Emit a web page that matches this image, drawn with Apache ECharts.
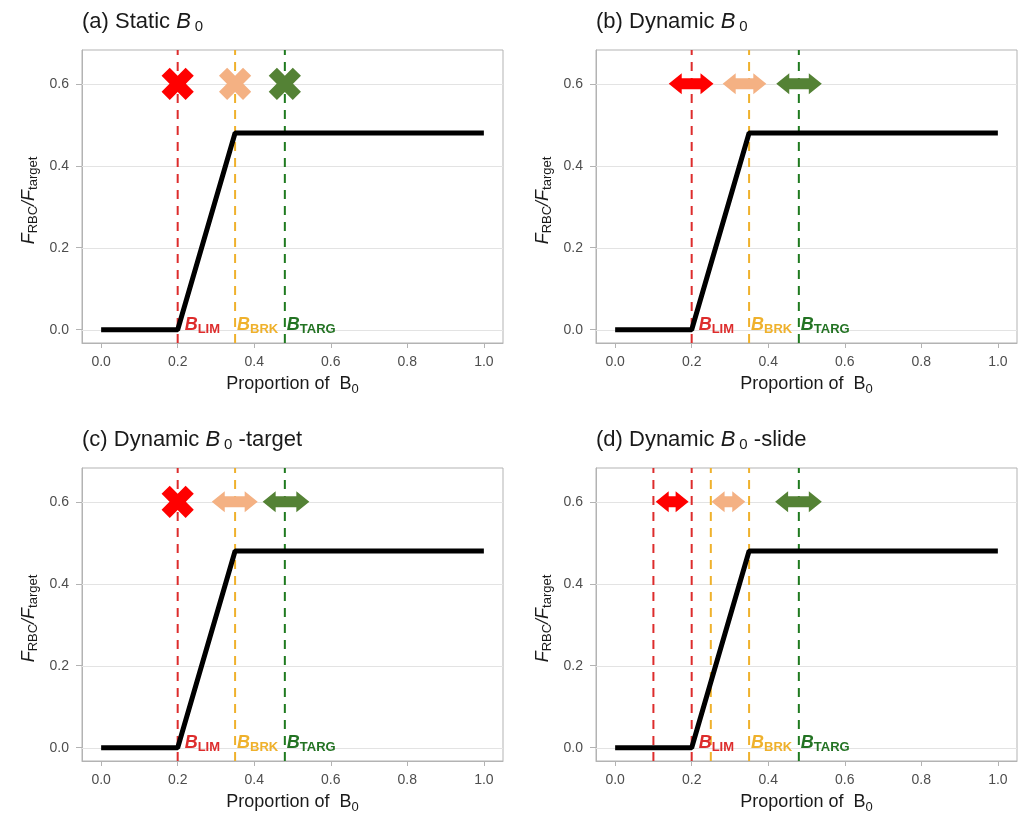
<!DOCTYPE html>
<html>
<head>
<meta charset="utf-8">
<script src="https://cdn.jsdelivr.net/npm/echarts@6/dist/echarts.min.js"></script>
<style>
  html, body { margin: 0; padding: 0; background: #ffffff; }
  #chart { width: 1019px; height: 816px; }
</style>
</head>
<body>
<div id="chart"></div>
<script>
// Harvest control rule: F_RBC / F_target against proportion of B0
const hcrX = [0, 0.2, 0.35, 1.0];
const hcrY = [0, 0, 0.48, 0.48];

const xTicks = [0, 0.2, 0.4, 0.6, 0.8, 1.0];
const yTicks = [0, 0.2, 0.4, 0.6];

const panelPrefix = ['(a) Static ', '(b) Dynamic ', '(c) Dynamic ', '(d) Dynamic '];
const panelSuffix = ['', '', ' -target', ' -slide'];

// reference point kinds: 0 = limit, 1 = breakpoint, 2 = target
const kindNames = ['LIM', 'BRK', 'TARG'];

// dashed reference lines for each panel: [x, kind]
const refLines = [
  [[0.2, 0], [0.35, 1], [0.48, 2]],
  [[0.2, 0], [0.35, 1], [0.48, 2]],
  [[0.2, 0], [0.35, 1], [0.48, 2]],
  [[0.1, 0], [0.2, 0], [0.25, 1], [0.35, 1], [0.48, 2]]
];

// B labels along the x axis: [x, kind]
const refLabels = [[0.2, 0], [0.35, 1], [0.48, 2]];

// fixed reference points (cross marks): [x, y, kind]
const crossMarks = [
  [[0.2, 0.6, 0], [0.35, 0.6, 1], [0.48, 0.6, 2]],
  [],
  [[0.2, 0.6, 0]],
  []
];

// moving reference points (double arrows): [xFrom, xTo, y, kind]
const arrowMarks = [
  [],
  [[0.140, 0.257, 0.6, 0], [0.281, 0.395, 0.6, 1], [0.421, 0.540, 0.6, 2]],
  [[0.289, 0.409, 0.6, 1], [0.422, 0.544, 0.6, 2]],
  [[0.106, 0.192, 0.6, 0], [0.252, 0.340, 0.6, 1], [0.418, 0.540, 0.6, 2]]
];

const lineColors = ['#dd2c2c', '#efb12c', '#1f7a1f'];
const labelColors = ['#dd2c2c', '#efb12c', '#237323'];
const markColors = ['#ff0000', '#f4b183', '#548235'];

const FONT = 'Liberation Sans, Arial, Helvetica, sans-serif';

const gridPos = [
  { left: 82, top: 50 },
  { left: 596, top: 50 },
  { left: 82, top: 468 },
  { left: 596, top: 468 }
];
const GRID_W = 421, GRID_H = 293;

const grids = [], xAxes = [], yAxes = [], titles = [], series = [];

gridPos.forEach((g, i) => {
  grids.push({
    left: g.left, top: g.top, width: GRID_W, height: GRID_H,
    show: true, borderColor: '#b3b3b3', borderWidth: 1, backgroundColor: 'transparent'
  });

  titles.push({
    left: g.left,
    top: g.top - 40,
    padding: 0,
    text: panelPrefix[i] + '{i|B}{s|0}' + (panelSuffix[i] ? '{n|' + panelSuffix[i] + '}' : ''),
    textStyle: {
      fontFamily: FONT, fontSize: 22, fontWeight: 'normal', color: '#1a1a1a', lineHeight: 24,
      rich: {
        i: { fontFamily: FONT, fontSize: 22, fontStyle: 'italic', color: '#1a1a1a', lineHeight: 24, padding: [0, 4, 0, 0] },
        s: { fontFamily: FONT, fontSize: 15, color: '#1a1a1a', lineHeight: 15, verticalAlign: 'bottom' },
        n: { fontFamily: FONT, fontSize: 22, color: '#1a1a1a', lineHeight: 24 }
      }
    }
  });

  xAxes.push({
    gridIndex: i, type: 'value', min: -0.05, max: 1.05,
    axisLine: { show: true, onZero: false, lineStyle: { color: '#b3b3b3', width: 1 } },
    axisTick: { show: true, customValues: xTicks, length: 5, lineStyle: { color: '#b3b3b3' } },
    axisLabel: {
      customValues: xTicks, formatter: v => v.toFixed(1),
      color: '#4d4d4d', fontFamily: FONT, fontSize: 14, margin: 12
    },
    splitLine: { show: false },
    name: '{t|Proportion of  B}{s|0}',
    nameLocation: 'middle', nameGap: 29,
    nameTextStyle: {
      rich: {
        t: { fontFamily: FONT, fontSize: 18, color: '#1a1a1a', lineHeight: 24 },
        s: { fontFamily: FONT, fontSize: 13, color: '#1a1a1a', lineHeight: 13, verticalAlign: 'bottom' }
      }
    }
  });

  yAxes.push({
    gridIndex: i, type: 'value', min: -0.0325, max: 0.6825,
    axisLine: { show: true, onZero: false, lineStyle: { color: '#b3b3b3', width: 1 } },
    axisTick: { show: true, customValues: yTicks, length: 6, lineStyle: { color: '#b3b3b3' } },
    axisLabel: {
      customValues: yTicks, formatter: v => v.toFixed(1),
      color: '#4d4d4d', fontFamily: FONT, fontSize: 14, margin: 13
    },
    splitLine: { show: false },
    name: '{f|F}{s|RBC}{f|/F}{s|target}',
    nameLocation: 'middle', nameGap: 42, nameRotate: 90,
    nameTextStyle: {
      padding: [0, 8, 0, 0],
      rich: {
        f: { fontFamily: FONT, fontSize: 18, fontStyle: 'italic', color: '#1a1a1a', lineHeight: 22 },
        s: { fontFamily: FONT, fontSize: 13, color: '#1a1a1a', lineHeight: 13, verticalAlign: 'bottom' }
      }
    }
  });

  // horizontal grid lines at the y ticks
  series.push({
    type: 'custom', xAxisIndex: i, yAxisIndex: i, z: 1, silent: true,
    data: yTicks.map(v => [v]),
    renderItem: (params, api) => {
      const cs = params.coordSys;
      const y = Math.round(api.coord([0, api.value(0)])[1]) + 0.5;
      return {
        type: 'line',
        shape: { x1: cs.x, y1: y, x2: cs.x + cs.width, y2: y },
        style: { stroke: '#e3e3e3', lineWidth: 1 }
      };
    }
  });

  // dashed reference lines spanning the panel
  series.push({
    type: 'custom', xAxisIndex: i, yAxisIndex: i, z: 2, silent: true,
    data: refLines[i],
    renderItem: (params, api) => {
      const cs = params.coordSys;
      const x = api.coord([api.value(0), 0])[0];
      return {
        type: 'line',
        shape: { x1: x, y1: cs.y + cs.height, x2: x, y2: cs.y },
        style: { stroke: lineColors[api.value(1)], lineWidth: 2, lineDash: [9, 7] }
      };
    }
  });

  // harvest control rule curve
  series.push({
    type: 'line', xAxisIndex: i, yAxisIndex: i, z: 3, silent: true,
    data: hcrX.map((x, k) => [x, hcrY[k]]),
    symbol: 'none',
    lineStyle: { color: '#000000', width: 5 }
  });

  // fixed reference points
  if (crossMarks[i].length) {
    series.push({
      type: 'scatter', xAxisIndex: i, yAxisIndex: i, z: 4, silent: true,
      symbol: 'path://M3.3,0H6.7V3.3H10V6.7H6.7V10H3.3V6.7H0V3.3H3.3Z',
      symbolSize: 34, symbolRotate: 45,
      data: crossMarks[i].map(d => ({ value: [d[0], d[1]], itemStyle: { color: markColors[d[2]], opacity: 1 } }))
    });
  }

  // moving reference points
  if (arrowMarks[i].length) {
    series.push({
      type: 'custom', xAxisIndex: i, yAxisIndex: i, z: 4, silent: true,
      data: arrowMarks[i],
      renderItem: (params, api) => {
        const a = api.coord([api.value(0), api.value(2)]);
        const b = api.coord([api.value(1), api.value(2)]);
        const x0 = a[0], x1 = b[0], y = a[1];
        const hl = 13, hh = 10.5, sh = 5.5;
        return {
          type: 'polygon',
          shape: {
            points: [
              [x0, y], [x0 + hl, y - hh], [x0 + hl, y - sh], [x1 - hl, y - sh], [x1 - hl, y - hh],
              [x1, y], [x1 - hl, y + hh], [x1 - hl, y + sh], [x0 + hl, y + sh], [x0 + hl, y + hh]
            ]
          },
          style: { fill: markColors[api.value(3)] }
        };
      }
    });
  }

  // B_LIM / B_BRK / B_TARG labels
  series.push({
    type: 'custom', xAxisIndex: i, yAxisIndex: i, z: 5, silent: true,
    data: refLabels,
    renderItem: (params, api) => {
      const k = api.value(1);
      const p = api.coord([api.value(0), 0]);
      const col = labelColors[k];
      return {
        type: 'text',
        x: p[0] + (k === 0 ? 7 : 2),
        y: p[1] - 5,
        style: {
          text: '{b|B}{s|' + kindNames[k] + '}',
          align: 'left', verticalAlign: 'middle',
          rich: {
            b: { fontFamily: FONT, fontSize: 18, fontWeight: 'bold', fontStyle: 'italic', fill: col, lineHeight: 23 },
            s: { fontFamily: FONT, fontSize: 13, fontWeight: 'bold', fill: col, lineHeight: 13, verticalAlign: 'bottom' }
          }
        }
      };
    }
  });
});

const chart = echarts.init(document.getElementById('chart'));
chart.setOption({
  animation: false,
  backgroundColor: '#ffffff',
  title: titles,
  grid: grids,
  xAxis: xAxes,
  yAxis: yAxes,
  series: series
});
</script>
</body>
</html>
